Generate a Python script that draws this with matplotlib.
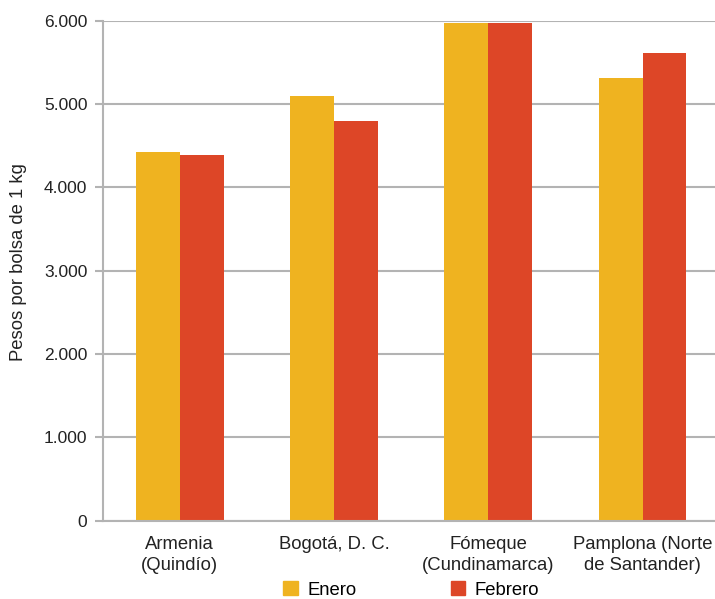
import matplotlib.pyplot as plt
import numpy as np
from matplotlib.patches import Patch
from matplotlib.ticker import FuncFormatter

# --- Data ---
ciudades = ["Armenia\n(Quindío)", "Bogotá, D. C.", "Fómeque\n(Cundinamarca)", "Pamplona (Norte\nde Santander)"]
enero = [4430, 5100, 5980, 5310]
febrero = [4390, 4800, 5980, 5620]
series = ["Enero", "Febrero"]

# --- Style ---
plt.rcParams["font.family"] = ["Liberation Sans", "DejaVu Sans"]
AMARILLO = "#EFB320"
ROJO = "#DD4627"
GRIS = "#B3B3B3"
TXT = "#222222"
FS = 13.3

fig = plt.figure(figsize=(7.15, 5.99), dpi=100)
ax = fig.add_axes([0.1436, 0.131, 0.8564, 0.834])

x = np.arange(len(ciudades))
w = 0.285
ax.bar(x - w / 2, enero, w, color=AMARILLO, zorder=3)
ax.bar(x + w / 2, febrero, w, color=ROJO, zorder=3)

ax.set_xlim(-0.5, 3.47)
ax.set_ylim(0, 6000)
ax.set_yticks(range(0, 6001, 1000))
ax.yaxis.set_major_formatter(FuncFormatter(lambda v, p: f"{int(v):,}".replace(",", ".")))
ax.set_xticks(x)
ax.set_xticklabels(ciudades, fontsize=FS, color=TXT, linespacing=1.35)
ax.tick_params(axis="x", length=0, pad=11)
ax.tick_params(axis="y", length=6, width=1.5, color=GRIS, labelsize=12.5, labelcolor=TXT, pad=5)

ax.grid(axis="y", color=GRIS, linewidth=1.5, zorder=0)
for s in ["top", "right"]:
    ax.spines[s].set_visible(False)
for s in ["left", "bottom"]:
    ax.spines[s].set_color(GRIS)
    ax.spines[s].set_linewidth(1.5)
ax.spines["bottom"].set_zorder(4)

ax.set_ylabel("Pesos por bolsa de 1 kg", fontsize=FS, color=TXT)
ax.yaxis.set_label_coords(-0.123, 0.517)

handles = [Patch(color=AMARILLO), Patch(color=ROJO)]
fig.legend(handles, series, loc="center", bbox_to_anchor=(0.575, 0.015), ncol=2,
           frameon=False, fontsize=FS, handlelength=0.8, handleheight=0.8,
           columnspacing=5.1, handletextpad=0.52)

fig.savefig("out.png", dpi=100)
